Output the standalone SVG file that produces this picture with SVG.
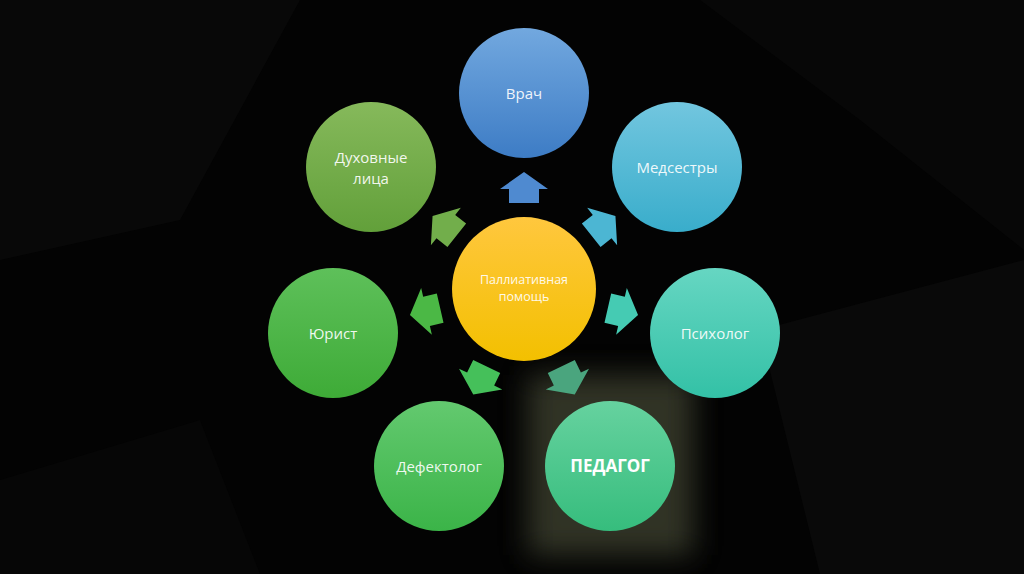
<svg xmlns="http://www.w3.org/2000/svg" xmlns:xlink="http://www.w3.org/1999/xlink" width="1024" height="574" viewBox="0 0 1024 574">
<style>
.lbl{font-family:"Open Sans","Liberation Sans",sans-serif;font-size:15px;fill:#ffffff;fill-opacity:0.92;text-anchor:middle}
.small{font-size:12.5px}
.bold{font-weight:bold;font-size:17px;fill-opacity:1}
</style>
<defs>
<linearGradient id="gBlue" x1="0" y1="0" x2="0" y2="1"><stop offset="0" stop-color="#72a8df"/><stop offset="1" stop-color="#3d7cc5"/></linearGradient>
<linearGradient id="gCyan" x1="0" y1="0" x2="0" y2="1"><stop offset="0" stop-color="#72c6df"/><stop offset="1" stop-color="#39adcb"/></linearGradient>
<linearGradient id="gTeal" x1="0" y1="0" x2="0" y2="1"><stop offset="0" stop-color="#66d6c2"/><stop offset="1" stop-color="#33c1a6"/></linearGradient>
<linearGradient id="gMint" x1="0" y1="0" x2="0" y2="1"><stop offset="0" stop-color="#66d29f"/><stop offset="1" stop-color="#36bd7d"/></linearGradient>
<linearGradient id="gGreen" x1="0" y1="0" x2="0" y2="1"><stop offset="0" stop-color="#63c96f"/><stop offset="1" stop-color="#3bb448"/></linearGradient>
<linearGradient id="gLeaf" x1="0" y1="0" x2="0" y2="1"><stop offset="0" stop-color="#5ec05a"/><stop offset="1" stop-color="#3eab37"/></linearGradient>
<linearGradient id="gOlive" x1="0" y1="0" x2="0" y2="1"><stop offset="0" stop-color="#86b95b"/><stop offset="1" stop-color="#62a03a"/></linearGradient>
<linearGradient id="gYellow" x1="0" y1="0" x2="0" y2="1"><stop offset="0" stop-color="#ffc73e"/><stop offset="1" stop-color="#f3c000"/></linearGradient>
<filter id="blur" x="-50%" y="-50%" width="200%" height="200%"><feGaussianBlur stdDeviation="14"/></filter>
<path id="arr" d="M86,-15 L100,-15 L100,-24 L117,0 L100,24 L100,15 L86,15 Z"/>
</defs>
<rect width="1024" height="574" fill="#030303"/>
<g id="background" fill="#080808">
<polygon points="0,0 300,0 180,220 0,260"/>
<polygon points="700,0 1024,0 1024,250 860,120" fill="#070707"/>
<polygon points="760,330 1024,260 1024,574 820,574" fill="#090909"/>
<polygon points="0,480 200,420 260,574 0,574" fill="#060606"/>
</g>
<rect x="528" y="375" width="165" height="180" fill="#4a4e38" opacity="0.65" filter="url(#blur)"/>
<g id="connectors">
<use xlink:href="#arr" href="#arr" transform="translate(524,289) rotate(-90)" fill="#4f8ad0"/>
<use xlink:href="#arr" href="#arr" transform="translate(524,289) rotate(-38.6)" fill="#4cb6d3"/>
<use xlink:href="#arr" href="#arr" transform="translate(524,289) rotate(12.9)" fill="#45cbb3"/>
<use xlink:href="#arr" href="#arr" transform="translate(524,289) rotate(64.3)" fill="#4aa57e"/>
<use xlink:href="#arr" href="#arr" transform="translate(524,289) rotate(115.7)" fill="#45c05a"/>
<use xlink:href="#arr" href="#arr" transform="translate(524,289) rotate(167.1)" fill="#4bb845"/>
<use xlink:href="#arr" href="#arr" transform="translate(524,289) rotate(218.6)" fill="#72ae4b"/>
</g>
<g id="center">
<circle cx="524" cy="289" r="72" fill="url(#gYellow)"/>
<text class="lbl small" x="524" y="284">Паллиативная</text>
<text class="lbl small" x="524" y="301">помощь</text>
</g>
<g id="vrach">
<circle cx="524" cy="93" r="65" fill="url(#gBlue)"/>
<text class="lbl" x="524" y="99">Врач</text>
</g>
<g id="medsestry">
<circle cx="677" cy="167" r="65" fill="url(#gCyan)"/>
<text class="lbl" x="677" y="173">Медсестры</text>
</g>
<g id="psiholog">
<circle cx="715" cy="333" r="65" fill="url(#gTeal)"/>
<text class="lbl" x="715" y="339">Психолог</text>
</g>
<g id="pedagog">
<circle cx="610" cy="466" r="65" fill="url(#gMint)"/>
<text class="lbl bold" x="610" y="472">ПЕДАГОГ</text>
</g>
<g id="defektolog">
<circle cx="439" cy="466" r="65" fill="url(#gGreen)"/>
<text class="lbl" x="439" y="472">Дефектолог</text>
</g>
<g id="yurist">
<circle cx="333" cy="333" r="65" fill="url(#gLeaf)"/>
<text class="lbl" x="333" y="339">Юрист</text>
</g>
<g id="duhovnye">
<circle cx="371" cy="167" r="65" fill="url(#gOlive)"/>
<text class="lbl" x="371" y="163">Духовные</text>
<text class="lbl" x="371" y="184">лица</text>
</g>
</svg>
